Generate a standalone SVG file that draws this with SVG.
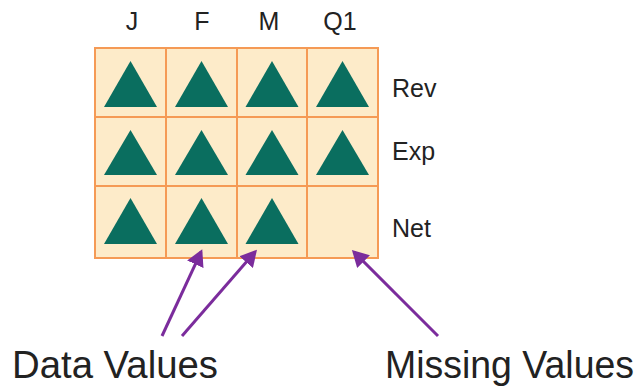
<svg xmlns="http://www.w3.org/2000/svg" width="641" height="387" viewBox="0 0 641 387">
<style>
.cell{fill:#FDEBC9;stroke:#F59A55;stroke-width:2}
.tri{fill:#0A6E5F}
.hdr{font-family:"Liberation Sans",Arial,sans-serif;font-size:25px;fill:#222}
.big{font-family:"Liberation Sans",Arial,sans-serif;font-size:38px;fill:#222}
.arr{stroke:#7B2C9C;stroke-width:3;fill:none;marker-end:url(#ah)}
</style>
<defs>
<marker id="ah" markerWidth="6" markerHeight="6" refX="4.5" refY="3" orient="auto" markerUnits="strokeWidth">
<path d="M0,0 L5.5,3 L0,6 Z" fill="#7B2C9C"/>
</marker>
</defs>
<rect width="641" height="387" fill="#fff"/>
<g id="headers">
<text class="hdr" x="132" y="30" text-anchor="middle">J</text>
<text class="hdr" x="202" y="30" text-anchor="middle">F</text>
<text class="hdr" x="269" y="30" text-anchor="middle">M</text>
<text class="hdr" x="340" y="30" text-anchor="middle">Q1</text>
<text class="hdr" x="392" y="97">Rev</text>
<text class="hdr" x="392" y="160">Exp</text>
<text class="hdr" x="392" y="237">Net</text>
</g>
<g id="grid">
<g id="rev-j"><rect class="cell" x="95" y="48" width="71" height="69"/><polygon class="tri" points="130.5,61 157,107 104,107"/></g>
<g id="rev-f"><rect class="cell" x="166" y="48" width="71" height="69"/><polygon class="tri" points="201.5,61 228,107 175,107"/></g>
<g id="rev-m"><rect class="cell" x="237" y="48" width="70" height="69"/><polygon class="tri" points="272,61 298.5,107 245.5,107"/></g>
<g id="rev-q1"><rect class="cell" x="307" y="48" width="71" height="69"/><polygon class="tri" points="342.5,61 369,107 316,107"/></g>
<g id="exp-j"><rect class="cell" x="95" y="117" width="71" height="69"/><polygon class="tri" points="130.5,130 157,175 104,175"/></g>
<g id="exp-f"><rect class="cell" x="166" y="117" width="71" height="69"/><polygon class="tri" points="201.5,130 228,175 175,175"/></g>
<g id="exp-m"><rect class="cell" x="237" y="117" width="70" height="69"/><polygon class="tri" points="272,130 298.5,175 245.5,175"/></g>
<g id="exp-q1"><rect class="cell" x="307" y="117" width="71" height="69"/><polygon class="tri" points="342.5,130 369,175 316,175"/></g>
<g id="net-j"><rect class="cell" x="95" y="186" width="71" height="72"/><polygon class="tri" points="130.5,198 157,244 104,244"/></g>
<g id="net-f"><rect class="cell" x="166" y="186" width="71" height="72"/><polygon class="tri" points="201.5,198 228,244 175,244"/></g>
<g id="net-m"><rect class="cell" x="237" y="186" width="70" height="72"/><polygon class="tri" points="272,198 298.5,244 245.5,244"/></g>
<g id="net-q1"><rect class="cell" x="307" y="186" width="71" height="72"/></g>
</g>
<g id="connectors">
<line class="arr" x1="162" y1="336" x2="201" y2="252"/>
<line class="arr" x1="182" y1="336" x2="255" y2="252"/>
<line class="arr" x1="438" y1="336" x2="354" y2="252"/>
</g>
<g id="labels">
<text class="big" x="12" y="378" textLength="206" lengthAdjust="spacingAndGlyphs">Data Values</text>
<text class="big" x="385" y="378" textLength="249" lengthAdjust="spacingAndGlyphs">Missing Values</text>
</g>
</svg>
